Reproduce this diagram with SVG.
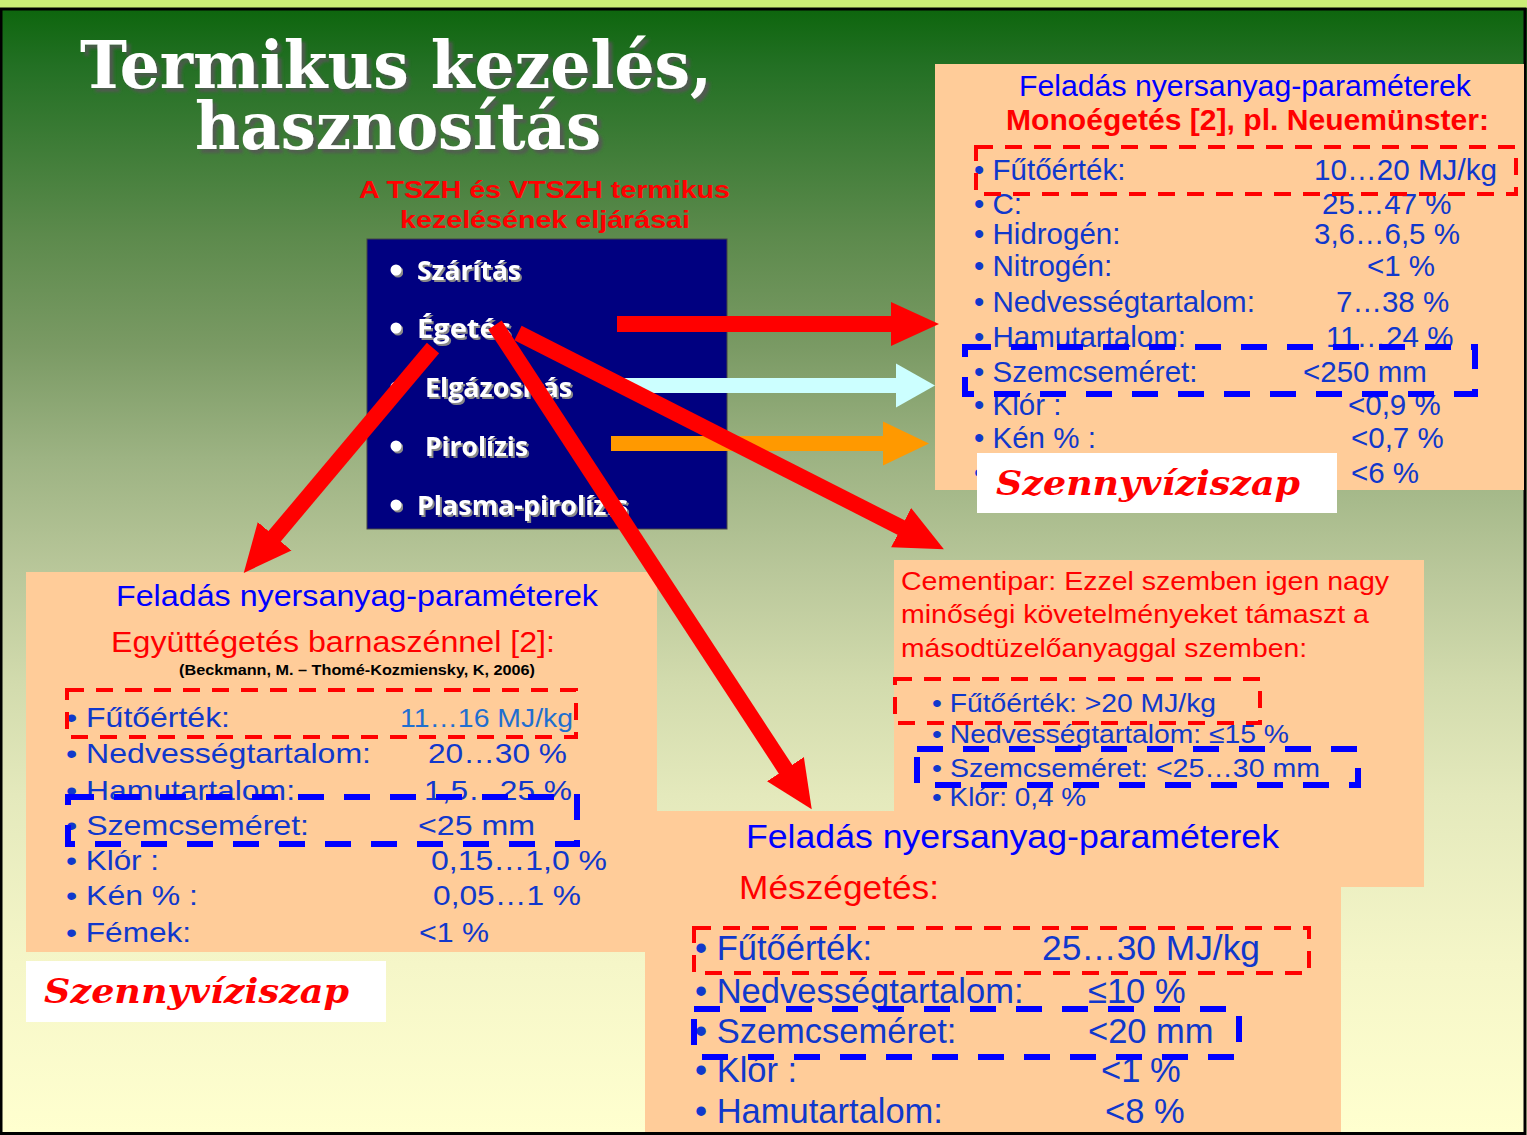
<svg xmlns="http://www.w3.org/2000/svg" width="1527" height="1135" viewBox="0 0 1527 1135">
<defs>
<linearGradient id="bg" gradientUnits="userSpaceOnUse" x1="0" y1="10" x2="0" y2="1132">
<stop offset="0" stop-color="#0e660e"/>
<stop offset="0.05" stop-color="#237024"/>
<stop offset="0.2" stop-color="#5c8a4c"/>
<stop offset="0.3" stop-color="#7a9a64"/>
<stop offset="0.4" stop-color="#9db383"/>
<stop offset="0.5" stop-color="#b9c79a"/>
<stop offset="0.6" stop-color="#d2dbad"/>
<stop offset="0.7" stop-color="#e4e9bc"/>
<stop offset="0.85" stop-color="#f5f6c8"/>
<stop offset="1" stop-color="#ffffcf"/>
</linearGradient>
<filter id="tshadow" x="-5%" y="-20%" width="115%" height="150%">
<feDropShadow dx="4" dy="4" stdDeviation="1.5" flood-color="#555" flood-opacity="0.85"/>
</filter>
<filter id="ishadow" x="-5%" y="-20%" width="115%" height="150%">
<feDropShadow dx="2" dy="2" stdDeviation="0.6" flood-color="#888" flood-opacity="1"/>
</filter>
<marker id="hRed" markerUnits="userSpaceOnUse" markerWidth="50" markerHeight="46" viewBox="0 -23 50 46" refX="1" refY="0" orient="auto">
<path d="M0,-22 L48,0 L0,22 z" fill="#ff0000"/>
</marker>
<marker id="hCyan" markerUnits="userSpaceOnUse" markerWidth="42" markerHeight="46" viewBox="0 -23 42 46" refX="1" refY="0" orient="auto">
<path d="M0,-22 L39,0 L0,22 z" fill="#ccffff"/>
</marker>
<marker id="hOrange" markerUnits="userSpaceOnUse" markerWidth="48" markerHeight="46" viewBox="0 -23 48 46" refX="1" refY="0" orient="auto">
<path d="M0,-22 L46,0 L0,22 z" fill="#ff9900"/>
</marker>
</defs>
<style>
.sans{font-family:'Liberation Sans',Arial,sans-serif}
.hdr{fill:#0000ff}
.red{fill:#ff0000}
.itm{fill:#1038cc}
.box{fill:#ffcc99}
.rd{fill:none;stroke:#ff0000;stroke-width:4;stroke-dasharray:17 12}
.bd{fill:none;stroke:#0000ff;stroke-width:6;stroke-dasharray:26 20}
.szv{font-family:'DejaVu Serif','Liberation Serif',serif;font-weight:bold;font-style:italic;fill:#ff0000;font-size:34px}
.wht{fill:#ffffff}
.bl{font-family:'Open Sans','Noto Sans',sans-serif;font-weight:bold;fill:#ffffff;font-size:27px}
.conn{fill:none}
</style>

<!-- background -->
<rect x="0" y="0" width="1527" height="9" fill="#ccee77"/>
<rect x="0" y="8" width="1527" height="1127" fill="url(#bg)"/>
<rect x="1" y="9" width="1524" height="1124.5" fill="none" stroke="#000" stroke-width="3"/>

<!-- title -->
<g id="title">
<text x="80" y="88" font-family="'DejaVu Serif','Liberation Serif',serif" font-weight="bold" font-size="66" fill="#ffffff" filter="url(#tshadow)" textLength="632" lengthAdjust="spacingAndGlyphs">Termikus kezelés,</text>
<text x="195" y="149" font-family="'DejaVu Serif','Liberation Serif',serif" font-weight="bold" font-size="66" fill="#ffffff" filter="url(#tshadow)" textLength="406" lengthAdjust="spacingAndGlyphs">hasznosítás</text>
<text class="sans red" x="359" y="198" font-size="24" font-weight="bold" textLength="371" lengthAdjust="spacingAndGlyphs">A TSZH és VTSZH termikus</text>
<text class="sans red" x="400" y="228" font-size="24" font-weight="bold" textLength="290" lengthAdjust="spacingAndGlyphs">kezelésének eljárásai</text>
</g>

<!-- process list -->
<g id="node-eljarasok">
<rect x="367" y="239" width="360" height="290" fill="#000080" stroke="#444" stroke-width="1"/>
<g fill="#ffffff" filter="url(#ishadow)">
<circle cx="396" cy="270" r="5.5"/>
<circle cx="396" cy="328" r="5.5"/>
<circle cx="396" cy="387" r="5.5"/>
<circle cx="396" cy="446" r="5.5"/>
<circle cx="396" cy="505" r="5.5"/>
</g>
<text class="bl" x="417" y="280" filter="url(#ishadow)" textLength="104" lengthAdjust="spacingAndGlyphs">Szárítás</text>
<text class="bl" x="417" y="338" filter="url(#ishadow)" textLength="94" lengthAdjust="spacingAndGlyphs">Égetés</text>
<text class="bl" x="425" y="397" filter="url(#ishadow)" textLength="147" lengthAdjust="spacingAndGlyphs">Elgázosítás</text>
<text class="bl" x="425" y="456" filter="url(#ishadow)" textLength="103" lengthAdjust="spacingAndGlyphs">Pirolízis</text>
<text class="bl" x="417" y="515" filter="url(#ishadow)" textLength="211" lengthAdjust="spacingAndGlyphs">Plasma-pirolízis</text>
</g>

<!-- top right: Monoégetés -->
<g id="node-monoegetes" class="sans">
<rect class="box" x="935" y="64" width="589" height="426"/>
<text class="hdr" x="1019" y="96" font-size="29" textLength="452" lengthAdjust="spacingAndGlyphs">Feladás nyersanyag-paraméterek</text>
<text class="red" x="1006" y="130" font-size="29" font-weight="bold" textLength="483" lengthAdjust="spacingAndGlyphs">Monoégetés [2], pl. Neuemünster:</text>
<g class="itm" font-size="29.5">
<text x="974" y="180">• Fűtőérték:</text><text x="1314" y="180" textLength="183" lengthAdjust="spacingAndGlyphs">10…20 MJ/kg</text>
<text x="974" y="214">• C:</text><text x="1322" y="214">25…47 %</text>
<text x="974" y="244">• Hidrogén:</text><text x="1314" y="244">3,6…6,5 %</text>
<text x="974" y="276">• Nitrogén:</text><text x="1367" y="276">&lt;1 %</text>
<text x="974" y="312">• Nedvességtartalom:</text><text x="1336" y="312">7…38 %</text>
<text x="974" y="347">• Hamutartalom:</text><text x="1326" y="347">11…24 %</text>
<text x="974" y="382">• Szemcseméret:</text><text x="1303" y="382">&lt;250 mm</text>
<text x="974" y="415">• Klór :</text><text x="1348" y="415">&lt;0,9 %</text>
<text x="974" y="448">• Kén % :</text><text x="1351" y="448">&lt;0,7 %</text>
<text x="974" y="483">•</text><text x="1351" y="483">&lt;6 %</text>
</g>
<rect class="rd" x="976" y="147" width="540" height="47"/>
<rect class="bd" x="965" y="347" width="510" height="47"/>
<rect class="wht" x="977" y="453" width="360" height="60"/>
<text class="szv" x="996" y="495" textLength="304" lengthAdjust="spacingAndGlyphs">Szennyvíziszap</text>
</g>

<!-- bottom left: Együttégetés -->
<g id="node-egyuttegetes" class="sans">
<rect class="box" x="26" y="572" width="631" height="380"/>
<text class="hdr" x="116" y="606" font-size="30" textLength="482" lengthAdjust="spacingAndGlyphs">Feladás nyersanyag-paraméterek</text>
<text class="red" x="111" y="652" font-size="30" textLength="444" lengthAdjust="spacingAndGlyphs">Együttégetés barnaszénnel [2]:</text>
<text x="179" y="675" font-size="15" font-weight="bold" fill="#000" textLength="356" lengthAdjust="spacingAndGlyphs">(Beckmann, M. – Thomé-Kozmiensky, K, 2006)</text>
<g class="itm" font-size="28">
<text x="66" y="727" textLength="164" lengthAdjust="spacingAndGlyphs">• Fűtőérték:</text>
<text x="400" y="727" font-size="25" fill="#1f6fd0" textLength="173" lengthAdjust="spacingAndGlyphs">11…16 MJ/kg</text>
<text x="66" y="763" textLength="305" lengthAdjust="spacingAndGlyphs">• Nedvességtartalom:</text>
<text x="428" y="763" textLength="139" lengthAdjust="spacingAndGlyphs">20…30 %</text>
<text x="66" y="800" textLength="229" lengthAdjust="spacingAndGlyphs">• Hamutartalom:</text>
<text x="424" y="800" textLength="148" lengthAdjust="spacingAndGlyphs">1,5…25 %</text>
<text x="66" y="835" textLength="243" lengthAdjust="spacingAndGlyphs">• Szemcseméret:</text>
<text x="418" y="835" textLength="117" lengthAdjust="spacingAndGlyphs">&lt;25 mm</text>
<text x="66" y="870" textLength="93" lengthAdjust="spacingAndGlyphs">• Klór :</text>
<text x="431" y="870" textLength="176" lengthAdjust="spacingAndGlyphs">0,15…1,0 %</text>
<text x="66" y="905" textLength="132" lengthAdjust="spacingAndGlyphs">• Kén % :</text>
<text x="433" y="905" textLength="148" lengthAdjust="spacingAndGlyphs">0,05…1 %</text>
<text x="66" y="942" textLength="125" lengthAdjust="spacingAndGlyphs">• Fémek:</text>
<text x="419" y="942" textLength="70" lengthAdjust="spacingAndGlyphs">&lt;1 %</text>
</g>
<rect class="rd" x="67" y="690" width="509" height="47"/>
<rect class="bd" x="68" y="797" width="509" height="47"/>
<rect class="wht" x="26" y="961" width="360" height="61"/>
<text class="szv" x="44" y="1003" textLength="305" lengthAdjust="spacingAndGlyphs">Szennyvíziszap</text>
</g>

<!-- right middle: Cementipar -->
<g id="node-cementipar" class="sans">
<rect class="box" x="894" y="560" width="530" height="327"/>
<g class="red" font-size="25">
<text x="901" y="590" textLength="488" lengthAdjust="spacingAndGlyphs">Cementipar: Ezzel szemben igen nagy</text>
<text x="901" y="623" textLength="468" lengthAdjust="spacingAndGlyphs">minőségi követelményeket támaszt a</text>
<text x="901" y="657" textLength="406" lengthAdjust="spacingAndGlyphs">másodtüzelőanyaggal szemben:</text>
</g>
<g class="itm" font-size="25">
<text x="932" y="712" textLength="284" lengthAdjust="spacingAndGlyphs">• Fűtőérték: &gt;20 MJ/kg</text>
<text x="932" y="743" textLength="357" lengthAdjust="spacingAndGlyphs">• Nedvességtartalom: ≤15 %</text>
<text x="932" y="777" textLength="388" lengthAdjust="spacingAndGlyphs">• Szemcseméret: &lt;25…30 mm</text>
<text x="932" y="806" textLength="154" lengthAdjust="spacingAndGlyphs">• Klór: 0,4 %</text>
</g>
<rect class="rd" x="895" y="679" width="365" height="44"/>
<rect class="bd" x="917" y="749" width="441" height="36"/>
</g>

<!-- bottom: Mészégetés -->
<g id="node-meszegetes" class="sans">
<rect class="box" x="645" y="811" width="696" height="321"/>
<text class="hdr" x="746" y="848" font-size="34" textLength="533" lengthAdjust="spacingAndGlyphs">Feladás nyersanyag-paraméterek</text>
<text class="red" x="739" y="899" font-size="34" textLength="200" lengthAdjust="spacingAndGlyphs">Mészégetés:</text>
<g class="itm" font-size="34.5">
<text x="695" y="960">• Fűtőérték:</text><text x="1042" y="960" textLength="218" lengthAdjust="spacingAndGlyphs">25…30 MJ/kg</text>
<text x="695" y="1003">• Nedvességtartalom:</text><text x="1088" y="1003">≤10 %</text>
<text x="695" y="1043">• Szemcseméret:</text><text x="1088" y="1043">&lt;20 mm</text>
<text x="695" y="1082">• Klór :</text><text x="1101" y="1082">&lt;1 %</text>
<text x="695" y="1123">• Hamutartalom:</text><text x="1105" y="1123">&lt;8 %</text>
</g>
<rect class="rd" x="694" y="928" width="615" height="45"/>
<rect class="bd" x="694" y="1009" width="545" height="48"/>
</g>

<!-- connectors -->
<g id="connectors" class="conn">
<line x1="617" y1="324" x2="892" y2="324" stroke="#ff0000" stroke-width="16" marker-end="url(#hRed)"/>
<line x1="622" y1="385.5" x2="897" y2="385.5" stroke="#ccffff" stroke-width="15" marker-end="url(#hCyan)"/>
<line x1="611" y1="443.5" x2="884" y2="443.5" stroke="#ff9900" stroke-width="15" marker-end="url(#hOrange)"/>
<line x1="433" y1="348" x2="274" y2="537" stroke="#ff0000" stroke-width="16" marker-end="url(#hRed)"/>
<line x1="495" y1="325" x2="786" y2="770" stroke="#ff0000" stroke-width="16" marker-end="url(#hRed)"/>
<line x1="518" y1="333" x2="902" y2="528" stroke="#ff0000" stroke-width="16" marker-end="url(#hRed)"/>
</g>
</svg>
